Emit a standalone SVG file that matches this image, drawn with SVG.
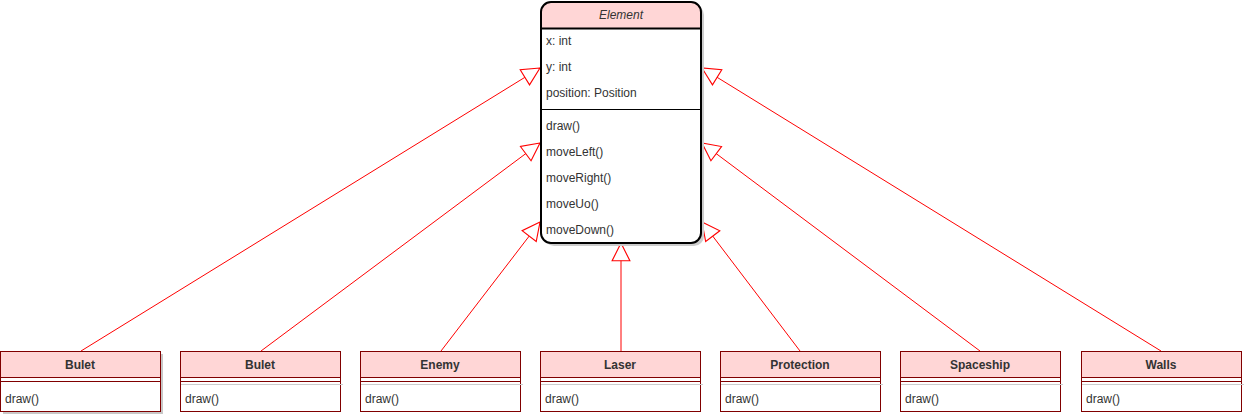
<svg xmlns="http://www.w3.org/2000/svg" width="1246" height="416" viewBox="0 0 1246 416">
<defs>
<style>
text{font-family:"Liberation Sans",Arial,sans-serif;font-size:12px;fill:#333333}
.t{text-anchor:middle;font-weight:bold}
.hdr{fill:#ffd6d6;stroke:#800000;stroke-width:1}
.body{fill:#ffffff;stroke:#800000;stroke-width:1}
.sh{fill:#c8c8c8;stroke:none}
.ln{stroke:#800000;stroke-width:1}
.edge{stroke:#ff0000;stroke-width:1;fill:none;marker-end:url(#tri)}
</style>
<marker id="tri" markerUnits="userSpaceOnUse" markerWidth="20" markerHeight="20" viewBox="-17 -9 18 18" refX="0" refY="0" orient="auto">
<path d="M0,0 L-16,-8 L-16,8 Z" fill="#ffffff" stroke="#ff0000" stroke-width="1"/>
</marker>
</defs>
<g id="connectors">
<line class="edge" x1="81" y1="351" x2="540" y2="68"/>
<line class="edge" x1="261" y1="351" x2="540" y2="143"/>
<line class="edge" x1="441" y1="351" x2="540" y2="222"/>
<line class="edge" x1="621" y1="351" x2="621" y2="243"/>
<line class="edge" x1="800" y1="351" x2="702" y2="222"/>
<line class="edge" x1="980" y1="351" x2="702" y2="143"/>
<line class="edge" x1="1161" y1="351" x2="702" y2="68"/>
</g>
<g id="Element">
<rect x="544" y="5" width="160" height="241" rx="10" fill="#cccccc"/>
<rect x="541" y="2" width="160" height="241" rx="10" fill="#ffffff" stroke="none"/>
<path d="M541,28 V12 A10,10 0 0 1 551,2 H691 A10,10 0 0 1 701,12 V28 Z" fill="#ffd6d6"/>
<line x1="541" y1="28.5" x2="701" y2="28.5" stroke="#000" stroke-width="2"/>
<line x1="541" y1="109.5" x2="701" y2="109.5" stroke="#000" stroke-width="1"/>
<rect x="541" y="2" width="160" height="241" rx="10" fill="none" stroke="#000" stroke-width="2"/>
<text x="621" y="19" text-anchor="middle" font-style="italic">Element</text>
<text x="546" y="45">x: int</text>
<text x="546" y="71">y: int</text>
<text x="546" y="97">position: Position</text>
<text x="546" y="130">draw()</text>
<text x="546" y="156">moveLeft()</text>
<text x="546" y="182">moveRight()</text>
<text x="546" y="208">moveUo()</text>
<text x="546" y="234">moveDown()</text>
</g>
<g id="Bulet1">
<rect class="sh" x="3" y="354" width="160" height="60"/>
<rect class="body" x="0.5" y="351.5" width="160" height="60"/>
<rect class="hdr" x="0.5" y="351.5" width="160" height="26"/>
<line class="ln" x1="0.5" y1="381.5" x2="160.5" y2="381.5"/>
<text class="t" x="80" y="369">Bulet</text>
<text x="5" y="403">draw()</text>
</g>
<g id="Bulet2">
<rect class="body" x="180.5" y="351.5" width="160" height="60"/>
<rect class="hdr" x="180.5" y="351.5" width="160" height="26"/>
<line class="ln" x1="180.5" y1="381.5" x2="340.5" y2="381.5"/>
<line x1="181" y1="384.5" x2="343" y2="384.5" stroke="#cccccc"/>
<text class="t" x="260" y="369">Bulet</text>
<text x="185" y="403">draw()</text>
</g>
<g id="Enemy">
<rect class="body" x="360.5" y="351.5" width="160" height="60"/>
<rect class="hdr" x="360.5" y="351.5" width="160" height="26"/>
<line class="ln" x1="360.5" y1="381.5" x2="520.5" y2="381.5"/>
<line x1="361" y1="384.5" x2="523" y2="384.5" stroke="#cccccc"/>
<text class="t" x="440" y="369">Enemy</text>
<text x="365" y="403">draw()</text>
</g>
<g id="Laser">
<rect class="body" x="540.5" y="351.5" width="160" height="60"/>
<rect class="hdr" x="540.5" y="351.5" width="160" height="26"/>
<line class="ln" x1="540.5" y1="381.5" x2="700.5" y2="381.5"/>
<line x1="541" y1="384.5" x2="703" y2="384.5" stroke="#cccccc"/>
<text class="t" x="620" y="369">Laser</text>
<text x="545" y="403">draw()</text>
</g>
<g id="Protection">
<rect class="body" x="720.5" y="351.5" width="160" height="60"/>
<rect class="hdr" x="720.5" y="351.5" width="160" height="26"/>
<line class="ln" x1="720.5" y1="381.5" x2="880.5" y2="381.5"/>
<line x1="721" y1="384.5" x2="883" y2="384.5" stroke="#cccccc"/>
<text class="t" x="800" y="369">Protection</text>
<text x="725" y="403">draw()</text>
</g>
<g id="Spaceship">
<rect class="body" x="900.5" y="351.5" width="160" height="60"/>
<rect class="hdr" x="900.5" y="351.5" width="160" height="26"/>
<line class="ln" x1="900.5" y1="381.5" x2="1060.5" y2="381.5"/>
<line x1="901" y1="384.5" x2="1063" y2="384.5" stroke="#cccccc"/>
<text class="t" x="980" y="369">Spaceship</text>
<text x="905" y="403">draw()</text>
</g>
<g id="Walls">
<rect class="body" x="1081.5" y="351.5" width="160" height="60"/>
<rect class="hdr" x="1081.5" y="351.5" width="160" height="26"/>
<line class="ln" x1="1081.5" y1="381.5" x2="1241.5" y2="381.5"/>
<line x1="1082" y1="384.5" x2="1244" y2="384.5" stroke="#cccccc"/>
<text class="t" x="1161" y="369">Walls</text>
<text x="1086" y="403">draw()</text>
</g>
</svg>
